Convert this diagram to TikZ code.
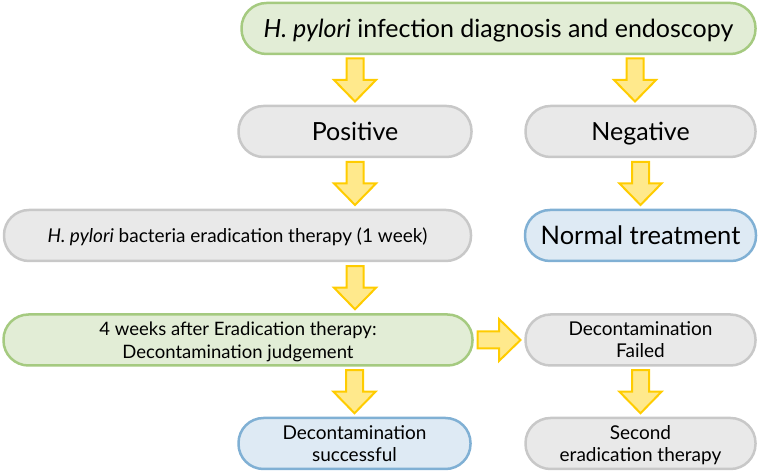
\documentclass[tikz,border=0pt]{standalone}
\usepackage{fontspec}
\setmainfont{Lato}
\usepackage{xcolor}
\usepackage{tikz}
\usetikzlibrary{positioning,calc}

\definecolor{greenfill}{HTML}{E2EDD6}
\definecolor{greenline}{HTML}{A5CA80}
\definecolor{grayfill}{HTML}{E9E9E9}
\definecolor{grayline}{HTML}{C8C8C8}
\definecolor{bluefill}{HTML}{DEEAF4}
\definecolor{blueline}{HTML}{80B0D4}
\definecolor{arrowfill}{HTML}{FFE98C}
\definecolor{arrowline}{HTML}{FFCC00}

\tikzset{
    box/.style={rounded corners=25pt, line width=2.5pt, align=center,
                minimum height=51pt, inner sep=0pt, text depth=0pt},
    greenbox/.style={box, draw=greenline, fill=greenfill},
    graybox/.style={box, draw=grayline, fill=grayfill},
    bluebox/.style={box, draw=blueline, fill=bluefill},
    bigtext/.style={font=\fontsize{25}{30}\selectfont},
    smalltext/.style={font=\fontsize{19}{22}\selectfont},
    yarrow/.style={draw=arrowline, fill=arrowfill, line width=2pt, line join=miter},
    downarrow/.pic={
        \draw[yarrow] (-8.5,21.5) -- (8.5,21.5) -- (8.5,0) -- (21,0)
                      -- (0,-21.5) -- (-21,0) -- (-8.5,0) -- cycle;
    }
}

\begin{document}
\begin{tikzpicture}[x=1pt, y=1pt]
    \useasboundingbox (0,0) rectangle (760,473);

    % Boxes
    \node[greenbox, bigtext, minimum width=514pt]
        (top) at (498.5,444.5) {\textit{H. pylori} infection diagnosis and endoscopy};
    \node[graybox, bigtext, minimum width=233pt]
        (pos) at (355,341.5) {Positive};
    \node[graybox, bigtext, minimum width=230pt]
        (neg) at (640.5,341.5) {Negative};
    \node[graybox, smalltext, minimum width=467pt]
        (erad) at (237.5,237.5) {\textit{H. pylori} bacteria eradication therapy (1 week)};
    \node[bluebox, bigtext, minimum width=231pt, font=\fontsize{25.5}{30}\selectfont]
        (normal) at (640.5,237.5) {Normal treatment};
    \node[greenbox, smalltext, minimum width=469pt, font=\fontsize{18.5}{22.5}\selectfont]
        (judge) at (238,133) {4 weeks after Eradication therapy:\\Decontamination judgement};
    \node[graybox, smalltext, minimum width=230pt]
        (failed) at (640.5,133) {Decontamination\\Failed};
    \node[bluebox, smalltext, minimum width=232pt]
        (success) at (354.5,29.5) {Decontamination\\successful};
    \node[graybox, smalltext, minimum width=230pt]
        (second) at (640.5,29.5) {Second\\eradication therapy};

    % Block arrows
    \pic at ($(top.south -| 635,0)!0.5!(neg.north -| 635,0)$) {downarrow};
    \foreach \a/\b/\c in {top/pos/pos, pos/erad/pos, erad/judge/pos, judge/success/success,
                          neg/normal/neg, failed/second/second} {
        \pic at ($(\a.south -| \c)!0.5!(\b.north -| \c)$) {downarrow};
    }
    \pic[rotate=90] at ($(judge.east)!0.5!(failed.west)$) {downarrow};
\end{tikzpicture}
\end{document}
